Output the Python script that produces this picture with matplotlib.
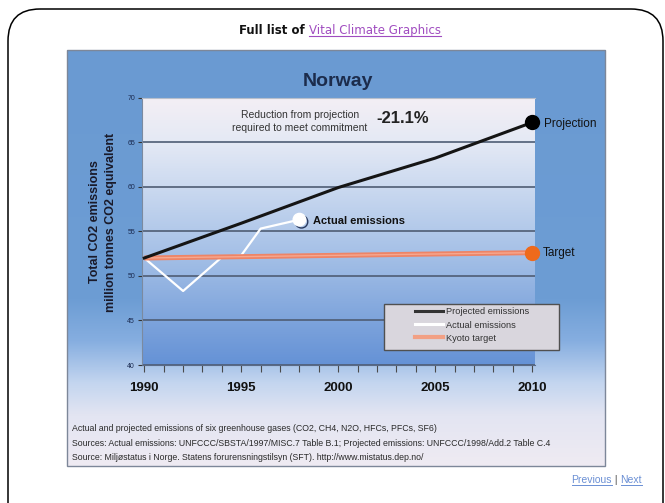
import matplotlib
matplotlib.use('Agg')
import matplotlib.pyplot as plt
import matplotlib.patheffects as pe
import numpy as np
from matplotlib.colors import LinearSegmentedColormap
from matplotlib.patches import FancyBboxPatch, Rectangle
from matplotlib.lines import Line2D

plt.rcParams['font.family'] = ['Liberation Sans', 'DejaVu Sans']

# ---------------- data ----------------
years_proj = [1990, 1995, 2000, 2005, 2010]
projected = [52.0, 55.9, 59.9, 63.2, 67.2]

years_actual = [1990, 1991, 1992, 1993, 1994, 1995, 1996, 1997, 1998]
actual = [52.0, 50.15, 48.3, 50.2, 52.1, 52.3, 55.3, 55.8, 56.3]

years_target = [1990, 2010]
target = [52.0, 52.6]

x_major = [1990, 1995, 2000, 2005, 2010]
x_labels = ['1990', '1995', '2000', '2005', '2010']
y_ticks = [40, 45, 50, 55, 60, 65, 70]

legend_labels = ['Projected emissions', 'Actual emissions', 'Kyoto target']
footnotes = [
    'Actual and projected emissions of six greenhouse gases (CO2, CH4, N2O, HFCs, PFCs, SF6)',
    'Sources: Actual emissions: UNFCCC/SBSTA/1997/MISC.7 Table B.1; Projected emissions: UNFCCC/1998/Add.2 Table C.4',
    'Source: Miljøstatus i Norge. Statens forurensningstilsyn (SFT). http://www.mistatus.dep.no/',
]

# ---------------- figure ----------------
W, H = 665, 503
fig = plt.figure(figsize=(W / 100, H / 100), dpi=100)
fig.patch.set_facecolor('white')

bg = fig.add_axes([0, 0, 1, 1])
bg.set_xlim(0, W)
bg.set_ylim(H, 0)
bg.axis('off')

# outer rounded page box
bg.add_patch(FancyBboxPatch((8, 9), 655, 528, boxstyle='round,pad=0,rounding_size=32',
                            fill=False, ec='black', lw=1.1, zorder=1))

# blue panel with gradient
grad = np.linspace(0, 1, 256).reshape(-1, 1)
cm_panel = LinearSegmentedColormap.from_list('panel', [
    (0.0, '#6a9ad2'), (0.6, '#6d9dd4'), (0.7, '#86aee0'), (0.8, '#c3d5ef'),
    (0.88, '#e3e5f2'), (1.0, '#efebf3')])
bg.imshow(grad, cmap=cm_panel, extent=[66.5, 605, 466, 50], aspect='auto', zorder=2)
bg.add_patch(Rectangle((66.5, 50), 538.5, 416, fill=False, ec='#7d8799', lw=1, zorder=3))


def fx(x):
    return x / W


def fy(y):
    return 1 - y / H


# ---------------- chart axes ----------------
x0, x1 = 1989.88, 2010.15
ax = fig.add_axes([fx(142), fy(365), (535 - 142) / W, (365 - 97.5) / H], zorder=5)
ax.set_xlim(x0, x1)
ax.set_ylim(40, 70)
cm_plot = LinearSegmentedColormap.from_list('plot', [
    (0.0, '#f4eff4'), (0.17, '#e4e9f5'), (0.33, '#ccdaf0'), (0.5, '#b2c9ea'),
    (0.67, '#98b7e3'), (0.83, '#7ea4dc'), (1.0, '#6592d6')])
ax.imshow(grad, cmap=cm_plot, extent=[x0, x1, 40, 70], aspect='auto', zorder=-1, origin='upper')

ax.set_yticks(y_ticks)
ax.set_yticklabels([str(v) for v in y_ticks])
ax.grid(axis='y', color='#4f5d74', lw=1.2)
ax.set_xticks(x_major)
ax.set_xticklabels(x_labels, fontweight='bold')
ax.set_xticks(range(1990, 2011), minor=True)
ax.tick_params(axis='y', length=3, color='#333333', labelsize=5, labelcolor='#1a2a50', pad=2)
ax.tick_params(axis='x', which='both', length=5, color='#4a4a4a', width=0.8,
               labelsize=9.5, labelcolor='#111111', pad=7)
ax.spines['right'].set_visible(False)
ax.spines['left'].set_color('#7b8aa0')
ax.spines['top'].set_color('#b8bfcc')
ax.spines['top'].set_linewidth(0.8)
ax.spines['bottom'].set_color('#5a6a85')
ax.spines['bottom'].set_linewidth(0.8)

ax.plot(years_actual, actual, color='white', lw=1.6, zorder=3)
ax.plot(years_target, target, color='#ee8466', lw=3.6, zorder=4, solid_capstyle='butt')
ax.plot(years_target, target, color='#f6a890', lw=1.0, zorder=4.1)
ax.plot(years_proj, projected, color='#151515', lw=2.2, zorder=5)
ax.plot(years_proj[-1:], projected[-1:], 'o', ms=10, color='black', zorder=6, clip_on=False)
ax.plot(years_target[-1:], target[-1:], 'o', ms=10, color='#ee6a1c', zorder=6, clip_on=False)
ax.plot(years_actual[-1:], actual[-1:], 'o', ms=9, color='white', zorder=6, clip_on=False,
        path_effects=[pe.SimpleLineShadow(offset=(1.5, -1.5), shadow_color='#1a2a50', alpha=0.9),
                      pe.Normal()])

# ---------------- overlay (texts, legend) ----------------
ov = fig.add_axes([0, 0, 1, 1], zorder=10)
ov.set_xlim(0, W)
ov.set_ylim(H, 0)
ov.axis('off')
ov.patch.set_alpha(0)
inv = ov.transData.inverted()


def width_of(t):
    fig.canvas.draw()
    b = t.get_window_extent()
    p0, p1 = inv.transform((b.x0, b.y0)), inv.transform((b.x1, b.y0))
    return p0, p1


# top link line
t1 = ov.text(0, 30, 'Full list of ', fontsize=8.5, fontweight='bold', color='#111111',
             va='center', ha='left', family='DejaVu Sans')
t2 = ov.text(0, 30, 'Vital Climate Graphics', fontsize=8.5, color='#a04cc0', va='center',
             ha='left', family='DejaVu Sans')
a0, a1 = width_of(t1)
b0, b1 = width_of(t2)
wa, wb = a1[0] - a0[0], b1[0] - b0[0]
start = 340 - (wa + wb) / 2
t1.set_x(start)
t2.set_x(start + wa)
b0, b1 = width_of(t2)
ov.plot([b0[0], b1[0]], [b0[1] - 0.5, b0[1] - 0.5], color='#a04cc0', lw=0.8)

ov.text(338, 81, 'Norway', fontsize=14, fontweight='bold', color='#1c2c4c', ha='center', va='center')

ov.text(95, 222, 'Total CO2 emissions', rotation=90, fontsize=9, fontweight='bold',
        color='#1a1a2a', ha='center', va='center')
ov.text(111, 222, 'million tonnes CO2 equivalent', rotation=90, fontsize=9, fontweight='bold',
        color='#1a1a2a', ha='center', va='center')

ov.text(300, 115, 'Reduction from projection', fontsize=7.5, color='#333333', ha='center', va='center')
ov.text(300, 128, 'required to meet commitment', fontsize=7.5, color='#333333', ha='center', va='center')
ov.text(403, 118, '-21.1%', fontsize=12, fontweight='bold', color='#222222', ha='center', va='center')

ov.text(544, 124, 'Projection', fontsize=8.5, color='#111111', ha='left', va='center')
ov.text(543, 253, 'Target', fontsize=8.5, color='#111111', ha='left', va='center')
ov.text(313, 221, 'Actual emissions', fontsize=8, fontweight='bold', color='#111111',
        ha='left', va='center')

# legend
ov.add_patch(Rectangle((384, 304), 175, 46, fc='#d9d6dd', ec='#505050', lw=1, zorder=1))
handles = [Line2D([], [], color='#333333', lw=2.2),
           Line2D([], [], color='white', lw=2.2),
           Line2D([], [], color='#f2a084', lw=3)]
leg = ov.legend(handles, legend_labels, loc='upper left', bbox_to_anchor=(413, 305.5),
                bbox_transform=ov.transData, frameon=False, borderaxespad=0, borderpad=0.2,
                handlelength=3.0, handletextpad=0.35, labelspacing=0.45, fontsize=6.7)
for t in leg.get_texts():
    t.set_color('#333333')

# footnotes
for yy, txt in zip([428.5, 443, 457], footnotes):
    ov.text(71.5, yy, txt, fontsize=6.3, color='#2a2a2a', ha='left', va='center')

# previous | next
tp = ov.text(0, 480, 'Previous', fontsize=7.5, color='#6a8fd4', ha='left', va='center')
tb = ov.text(0, 480, ' | ', fontsize=7.5, color='#555555', ha='left', va='center')
tn = ov.text(0, 480, 'Next', fontsize=7.5, color='#6a8fd4', ha='left', va='center')
pw = [width_of(t) for t in (tp, tb, tn)]
ws = [p[1][0] - p[0][0] for p in pw]
xs = 642 - sum(ws)
for t, w in zip((tp, tb, tn), ws):
    t.set_x(xs)
    xs += w
for t in (tp, tn):
    p0, p1 = width_of(t)
    ov.plot([p0[0], p1[0]], [p0[1] - 0.3, p0[1] - 0.3], color='#6a8fd4', lw=0.7)

fig.savefig('out.png', dpi=100)
